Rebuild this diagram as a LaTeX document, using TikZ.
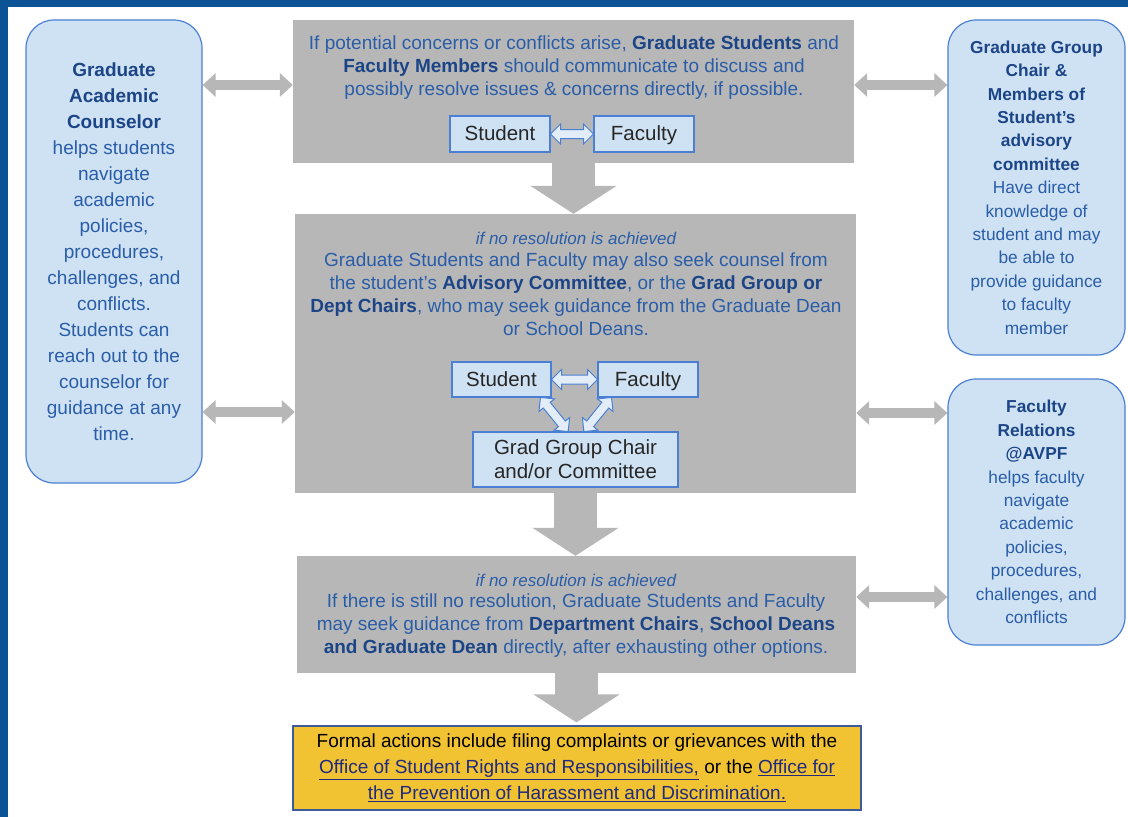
\documentclass[tikz,border=0pt]{standalone}
\usepackage{fontspec}
\setmainfont{Liberation Sans}
\usetikzlibrary{arrows.meta,shapes.arrows,calc}
\definecolor{frameblue}{HTML}{0B5394}
\definecolor{lightblue}{HTML}{CFE2F3}
\definecolor{boxborder}{HTML}{4A7FD4}
\definecolor{grayfill}{HTML}{B7B7B7}
\definecolor{tblue}{HTML}{2A5DA8}
\definecolor{dblue}{HTML}{1C4587}
\definecolor{yellowfill}{HTML}{F1C232}
\definecolor{yborder}{HTML}{3D5A99}
\definecolor{linkc}{HTML}{1F2A80}
\definecolor{arrowfill}{HTML}{E3EDF8}
\newcommand{\hb}[1]{\textbf{\color{dblue}#1}}
\newcommand{\lnk}[1]{{\color{linkc}\underline{#1}}}
\begin{document}
\begin{tikzpicture}[x=1pt,y=-1pt,
  sidebox/.style={draw=boxborder, line width=1.2pt, fill=lightblue, rounded corners=28pt, align=center, text=tblue, inner sep=0},
  graybox/.style={fill=grayfill, draw=none, inner sep=0},
  sfbox/.style={draw=boxborder, line width=1.2pt, fill=lightblue, align=center, font=\fontsize{20.5}{24}\selectfont, text=black!85, inner sep=0},
  sfsingle/.style={sfbox, text height=16.5pt, text depth=3pt},
  gtext/.style={align=center, text=tblue, font=\fontsize{19}{23}\selectfont, inner sep=0},
  itext/.style={text=tblue, font=\fontsize{17}{20}\selectfont\itshape, inner sep=0},
  sidearrow/.style={draw=grayfill, line width=10pt, {Triangle[width=23pt,length=13pt]}-{Triangle[width=23pt,length=13pt]}},
  downarrow/.style={draw=grayfill, line width=43pt, -{Triangle[width=85pt,length=28pt]}},
  dblarrow/.style={double arrow, draw=boxborder, fill=arrowfill, line width=1pt, double arrow head extend=5.5pt, double arrow head indent=0pt, inner sep=0pt, text height=8pt, text depth=0pt}
]
\useasboundingbox (0,0) rectangle (1128,817);
\fill[white] (0,0) rectangle (1128,817);
\fill[frameblue] (0,0) rectangle (1128,7);
\fill[frameblue] (0,0) rectangle (8,817);

% side boxes
\node[sidebox, minimum width=176pt, minimum height=463pt, font=\fontsize{19}{26}\selectfont] (lb) at (114,251.5)
 {\hb{Graduate}\\ \hb{Academic}\\ \hb{Counselor}\\ helps students\\ navigate\\ academic\\ policies,\\ procedures,\\ challenges, and\\ conflicts.\\ Students can\\ reach out to the\\ counselor for\\ guidance at any\\ time.};
\node[sidebox, minimum width=177pt, minimum height=335pt, font=\fontsize{17.3}{23.4}\selectfont] (rb1) at (1036.5,187.5)
 {\hb{Graduate Group}\\ \hb{Chair \&}\\ \hb{Members of}\\ \hb{Student’s}\\ \hb{advisory}\\ \hb{committee}\\ Have direct\\ knowledge of\\ student and may\\ be able to\\ provide guidance\\ to faculty\\ member};
\node[sidebox, minimum width=177pt, minimum height=266pt, font=\fontsize{17.3}{23.4}\selectfont] (rb2) at (1036.5,512)
 {\hb{Faculty}\\ \hb{Relations}\\ \hb{@AVPF}\\ helps faculty\\ navigate\\ academic\\ policies,\\ procedures,\\ challenges, and\\ conflicts};

% gray boxes
\node[graybox, minimum width=561pt, minimum height=143pt] (g1) at (573.5,91.5) {};
\node[graybox, minimum width=561pt, minimum height=279pt] (g2) at (575.5,353.5) {};
\node[graybox, minimum width=559pt, minimum height=117pt] (g3) at (576.5,614.5) {};

% yellow box
\node[draw=yborder, line width=1.2pt, fill=yellowfill, minimum width=568pt, minimum height=84pt, inner sep=0, align=center, font=\fontsize{19}{26}\selectfont] (yb) at (577,768)
 {Formal actions include filing complaints or grievances with the\\
  \lnk{Office of Student Rights and Responsibilities,} or the \lnk{Office for}\\
  \lnk{the Prevention of Harassment and Discrimination.}};

% texts in gray boxes
\node[gtext] (t1) at (574,68) {If potential concerns or conflicts arise, \hb{Graduate Students} and\\ \hb{Faculty Members} should communicate to discuss and\\ possibly resolve issues \& concerns directly, if possible.};
\node[itext] (i2) at (576,238) {if no resolution is achieved};
\node[gtext] (t2) at (576,294) {Graduate Students and Faculty may also seek counsel from\\ the student’s \hb{Advisory Committee}, or the \hb{Grad Group or}\\ \hb{Dept Chairs}, who may seek guidance from the Graduate Dean\\ or School Deans.};
\node[itext] (i3) at (576,580) {if no resolution is achieved};
\node[gtext] (t3) at (576,625.5) {If there is still no resolution, Graduate Students and Faculty\\ may seek guidance from \hb{Department Chairs}, \hb{School Deans}\\ \hb{and Graduate Dean} directly, after exhausting other options.};

% student / faculty boxes
\node[sfsingle, minimum width=100pt, minimum height=36pt] (s1) at (500,134) {Student};
\node[sfsingle, minimum width=100pt, minimum height=36pt] (f1) at (644,134) {Faculty};
\node[sfsingle, minimum width=99pt, minimum height=35pt] (s2) at (501.5,379.5) {Student};
\node[sfsingle, minimum width=100pt, minimum height=35pt] (f2) at (648,379.5) {Faculty};
\node[sfbox, minimum width=205pt, minimum height=55pt] (gg) at (575.5,459.5) {Grad Group Chair\\ and/or Committee};

% small blue double arrows
\path (s1.east) -- (f1.west) node[midway, sloped, dblarrow, minimum height=43pt] {};
\path (s2.east) -- (f2.west) node[midway, sloped, dblarrow, minimum height=46pt] {};
\path ([xshift=-11pt]s2.south east) -- ([xshift=-7.5pt]gg.north) node[midway, sloped, dblarrow, minimum height=44pt] {};
\path ([xshift=14pt]f2.south west) -- ([xshift=8.5pt]gg.north) node[midway, sloped, dblarrow, minimum height=44pt] {};

% down arrows
\draw[downarrow] (g1.south) -- (g1.south |- g2.north);
\draw[downarrow] (g2.south) -- (g2.south |- g3.north);
\draw[downarrow] (g3.south) -- ([yshift=3pt]g3.south |- yb.north);

% side arrows
\draw[sidearrow] (lb.east |- 0,85) -- (g1.west |- 0,85);
\draw[sidearrow] (lb.east |- 0,412) -- (g2.west |- 0,412);
\draw[sidearrow] (g1.east |- 0,85) -- (rb1.west |- 0,85);
\draw[sidearrow] (g2.east |- 0,413) -- (rb2.west |- 0,413);
\draw[sidearrow] (g3.east |- 0,597) -- (rb2.west |- 0,597);
\end{tikzpicture}
\end{document}
